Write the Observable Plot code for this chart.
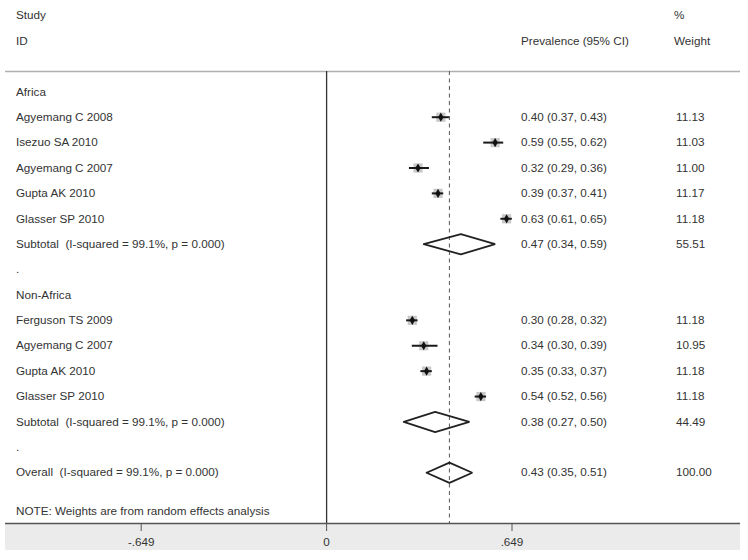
<!DOCTYPE html>
<html>
<head>
<meta charset="utf-8">
<script src="https://cdn.jsdelivr.net/npm/d3@7"></script>
<script src="https://cdn.jsdelivr.net/npm/@observablehq/plot@0.6"></script>
<style>
  html, body { margin: 0; padding: 0; background: #fff; }
  #chart { width: 748px; height: 560px; }
</style>
</head>
<body>
<div id="chart"></div>
<script>
// ---- data ----
const labels = [
  "Africa",
  "Agyemang C 2008",
  "Isezuo SA 2010",
  "Agyemang C 2007",
  "Gupta AK 2010",
  "Glasser SP 2010",
  "Subtotal  (I-squared = 99.1%, p = 0.000)",
  ".",
  "Non-Africa",
  "Ferguson TS 2009",
  "Agyemang C 2007",
  "Gupta AK 2010",
  "Glasser SP 2010",
  "Subtotal  (I-squared = 99.1%, p = 0.000)",
  ".",
  "Overall  (I-squared = 99.1%, p = 0.000)"
];
const kinds = ["group", "study", "study", "study", "study", "study", "summary", "blank",
               "group", "study", "study", "study", "study", "summary", "blank", "summary"];
const estimates = [null, 0.40, 0.59, 0.32, 0.39, 0.63, 0.47, null, null, 0.30, 0.34, 0.35, 0.54, 0.38, null, 0.43];
const lower     = [null, 0.37, 0.55, 0.29, 0.37, 0.61, 0.34, null, null, 0.28, 0.30, 0.33, 0.52, 0.27, null, 0.35];
const upper     = [null, 0.43, 0.62, 0.36, 0.41, 0.65, 0.59, null, null, 0.32, 0.39, 0.37, 0.56, 0.50, null, 0.51];
const weights   = [null, 11.13, 11.03, 11.00, 11.17, 11.18, 55.51, null, null, 11.18, 10.95, 11.18, 11.18, 44.49, null, 100.00];
const tickValues = [-0.649, 0, 0.649];
const tickLabels = ["-.649", "0", ".649"];
const headerStudy = ["Study", "ID"];
const headerCI = "Prevalence (95% CI)";
const headerWeight = ["%", "Weight"];
const note = "NOTE: Weights are from random effects analysis";

// ---- table built from arrays ----
const rows = labels.map((label, i) => ({
  row: i, label, kind: kinds[i], est: estimates[i], lo: lower[i], hi: upper[i], w: weights[i]
}));
const studies = rows.filter(d => d.kind === "study");
const summaries = rows.filter(d => d.kind === "summary");
const withValues = rows.filter(d => d.est != null);
const overall = summaries[summaries.length - 1];
const diamondH = 0.4;
const diamonds = summaries.flatMap(d => [
  {x: d.lo, y: d.row, z: d.row},
  {x: d.est, y: d.row - diamondH, z: d.row},
  {x: d.hi, y: d.row, z: d.row},
  {x: d.est, y: d.row + diamondH, z: d.row},
  {x: d.lo, y: d.row, z: d.row}
]);
const fmt = d3.format(".2f");
const headerRows = [-3, -2];
const axisRow = 17;
const noteRow = 16.5;
const topRuleRow = -0.8;

const textColor = "#333";
const fs = 11.7;
const font = "'Liberation Sans', Arial, Helvetica, sans-serif";

const chart = Plot.plot({
  width: 748,
  height: 560,
  marginLeft: 5,
  marginRight: 8,
  marginTop: 71,
  marginBottom: 37,
  style: {fontFamily: font, fontSize: fs + "px", color: textColor, background: "#fff"},
  x: {domain: [-0.649, 0.649], range: [140.7, 511.5]},
  y: {domain: [topRuleRow, axisRow], range: [71, 523], axis: null},
  r: {domain: [0, 11.2], range: [0, 5.2]},
  marks: [
    // grey band under axis
    Plot.rect([0], {y1: axisRow, y2: 18.06, fill: "#ebebeb"}),
    // top separator
    Plot.ruleY([topRuleRow], {stroke: "#b0b0b0", strokeWidth: 1.5}),
    // null line
    Plot.ruleX([0], {stroke: "#333", strokeWidth: 1.3}),
    // overall dashed line
    Plot.ruleX([overall], {x: "est", stroke: "#666", strokeWidth: 1.1, strokeDasharray: "4,3.5"}),
    // axis line
    Plot.ruleY([axisRow], {stroke: "#555", strokeWidth: 1.5}),
    Plot.axisX({
      anchor: "bottom", ticks: tickValues,
      tickFormat: (d) => tickLabels[tickValues.indexOf(d)],
      tickSize: 8, tickPadding: 6, stroke: "#555", fill: textColor,
      fontSize: fs, label: null
    }),
    // weight boxes
    Plot.dot(studies, {x: "est", y: "row", r: "w", symbol: "square", fill: "#9a9a9a", fillOpacity: 0.55, stroke: "none"}),
    // CI lines
    Plot.ruleY(studies, {y: "row", x1: "lo", x2: "hi", stroke: "#1a1a1a", strokeWidth: 2}),
    // point estimates
    Plot.dot(studies, {x: "est", y: "row", r: 2.8, symbol: "diamond", fill: "#111", stroke: "none"}),
    // diamonds
    Plot.line(diamonds, {x: "x", y: "y", z: "z", stroke: "#222", strokeWidth: 1.8, strokeLinejoin: "miter", curve: "linear"}),
    // labels
    Plot.text(rows, {y: "row", text: "label", frameAnchor: "left", dx: 10.5, textAnchor: "start", fill: textColor, fontSize: fs}),
    Plot.text(withValues, {y: "row", text: d => `${fmt(d.est)} (${fmt(d.lo)}, ${fmt(d.hi)})`, frameAnchor: "left", dx: 515.5, textAnchor: "start", fill: textColor, fontSize: fs}),
    Plot.text(withValues, {y: "row", text: d => fmt(d.w), frameAnchor: "left", dx: 670.5, textAnchor: "start", fill: textColor, fontSize: fs}),
    // headers
    Plot.text(headerStudy, {y: (d, i) => headerRows[i], text: d => d, frameAnchor: "left", dx: 10.5, textAnchor: "start", fill: textColor, fontSize: fs}),
    Plot.text([headerCI], {y: headerRows[1], text: d => d, frameAnchor: "left", dx: 515.5, textAnchor: "start", fill: textColor, fontSize: fs}),
    Plot.text(headerWeight, {y: (d, i) => headerRows[i], text: d => d, frameAnchor: "left", dx: 668.5, textAnchor: "start", fill: textColor, fontSize: fs}),
    // note
    Plot.text([note], {y: noteRow, text: d => d, frameAnchor: "left", dx: 10.5, textAnchor: "start", fill: textColor, fontSize: fs})
  ]
});
document.getElementById("chart").appendChild(chart);
</script>
</body>
</html>
